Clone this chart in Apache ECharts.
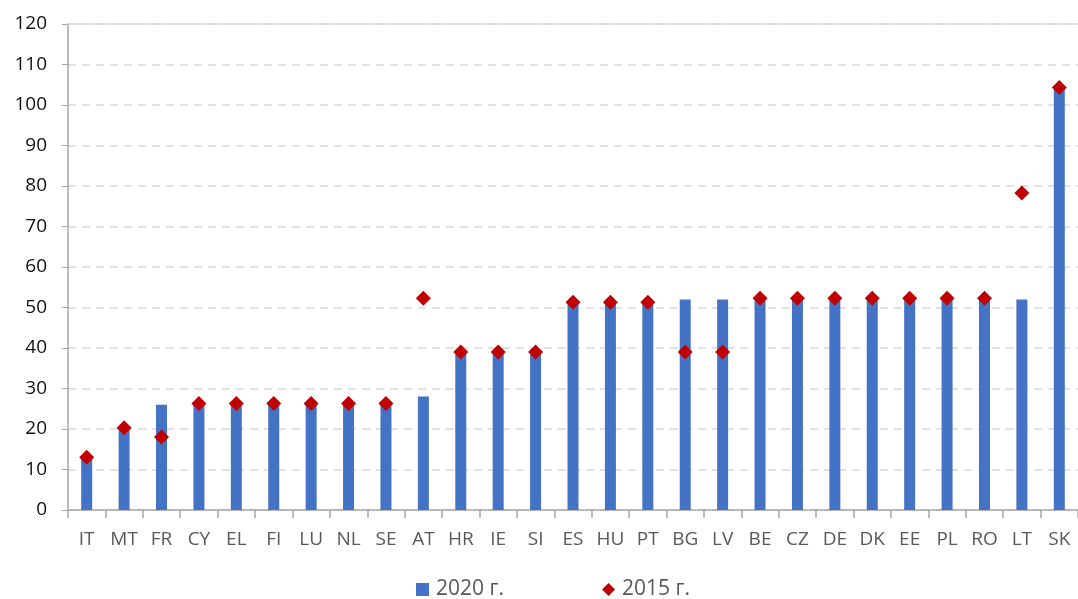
<!DOCTYPE html>
<html><head><meta charset="utf-8">
<script src="https://cdn.jsdelivr.net/npm/echarts@6/dist/echarts.min.js"></script>
<style>html,body{margin:0;padding:0;background:#fff}#c{width:1078px;height:599px}</style>
</head><body><div id="c"></div>
<script>
const categories = ['IT','MT','FR','CY','EL','FI','LU','NL','SE','AT','HR','IE','SI','ES','HU','PT','BG','LV','BE','CZ','DE','DK','EE','PL','RO','LT','SK'];
const values2020 = [13,20,26,26,26,26,26,26,26,28,39,39,39,51,51,51,52,52,52,52,52,52,52,52,52,52,104];
const values2015 = [13,20.3,18,26.3,26.3,26.3,26.3,26.3,26.3,52.3,39,39,39,51.3,51.3,51.3,39,39,52.3,52.3,52.3,52.3,52.3,52.3,52.3,78.3,104.3];
const yTicks = {min:0,max:120,interval:10};

const chart = echarts.init(document.getElementById('c'));
chart.setOption({
  animation:false,
  textStyle:{fontFamily:'Open Sans, Noto Sans, sans-serif'},
  grid:{left:68,width:1016,top:24,bottom:89,containLabel:false},
  legend:{
    top:579, left:416, itemGap:98, padding:0,
    textStyle:{fontSize:21,color:'#595959',padding:[0,0,0,2]},
    itemWidth:13,itemHeight:13,
    data:[{name:'2020 г.',icon:'rect'},{name:'2015 г.',icon:'diamond'}]
  },
  xAxis:{
    type:'category', data:categories, boundaryGap:true,
    axisLine:{lineStyle:{color:'#A6A6A6',width:1.5}},
    axisTick:{show:true,length:8,alignWithLabel:false,lineStyle:{color:'#A6A6A6',width:1.5}},
    axisLabel:{fontSize:19,color:'#595959',margin:20}
  },
  yAxis:{
    type:'value', min:yTicks.min, max:yTicks.max, interval:yTicks.interval,
    axisLine:{show:true,lineStyle:{color:'#A6A6A6',width:1.5}},
    axisTick:{show:true,length:6,lineStyle:{color:'#A6A6A6'}},
    axisLabel:{fontSize:19,color:'#111',margin:21},
    splitLine:{show:true,lineStyle:{color:'#D9D9D9',type:[8,6],width:1.5}}
  },
  series:[
    {name:'2020 г.',type:'bar',data:values2020,barWidth:11,
     itemStyle:{color:'#4472C4'},
     markLine:{silent:true,symbol:'none',label:{show:false},
       lineStyle:{color:'#D9D9D9',type:'solid',width:1.5},data:[{yAxis:120}]}},
    {name:'2015 г.',type:'scatter',data:values2015,symbol:'diamond',symbolSize:15,
     itemStyle:{color:'#C00000',opacity:1},z:5}
  ]
});
</script></body></html>
